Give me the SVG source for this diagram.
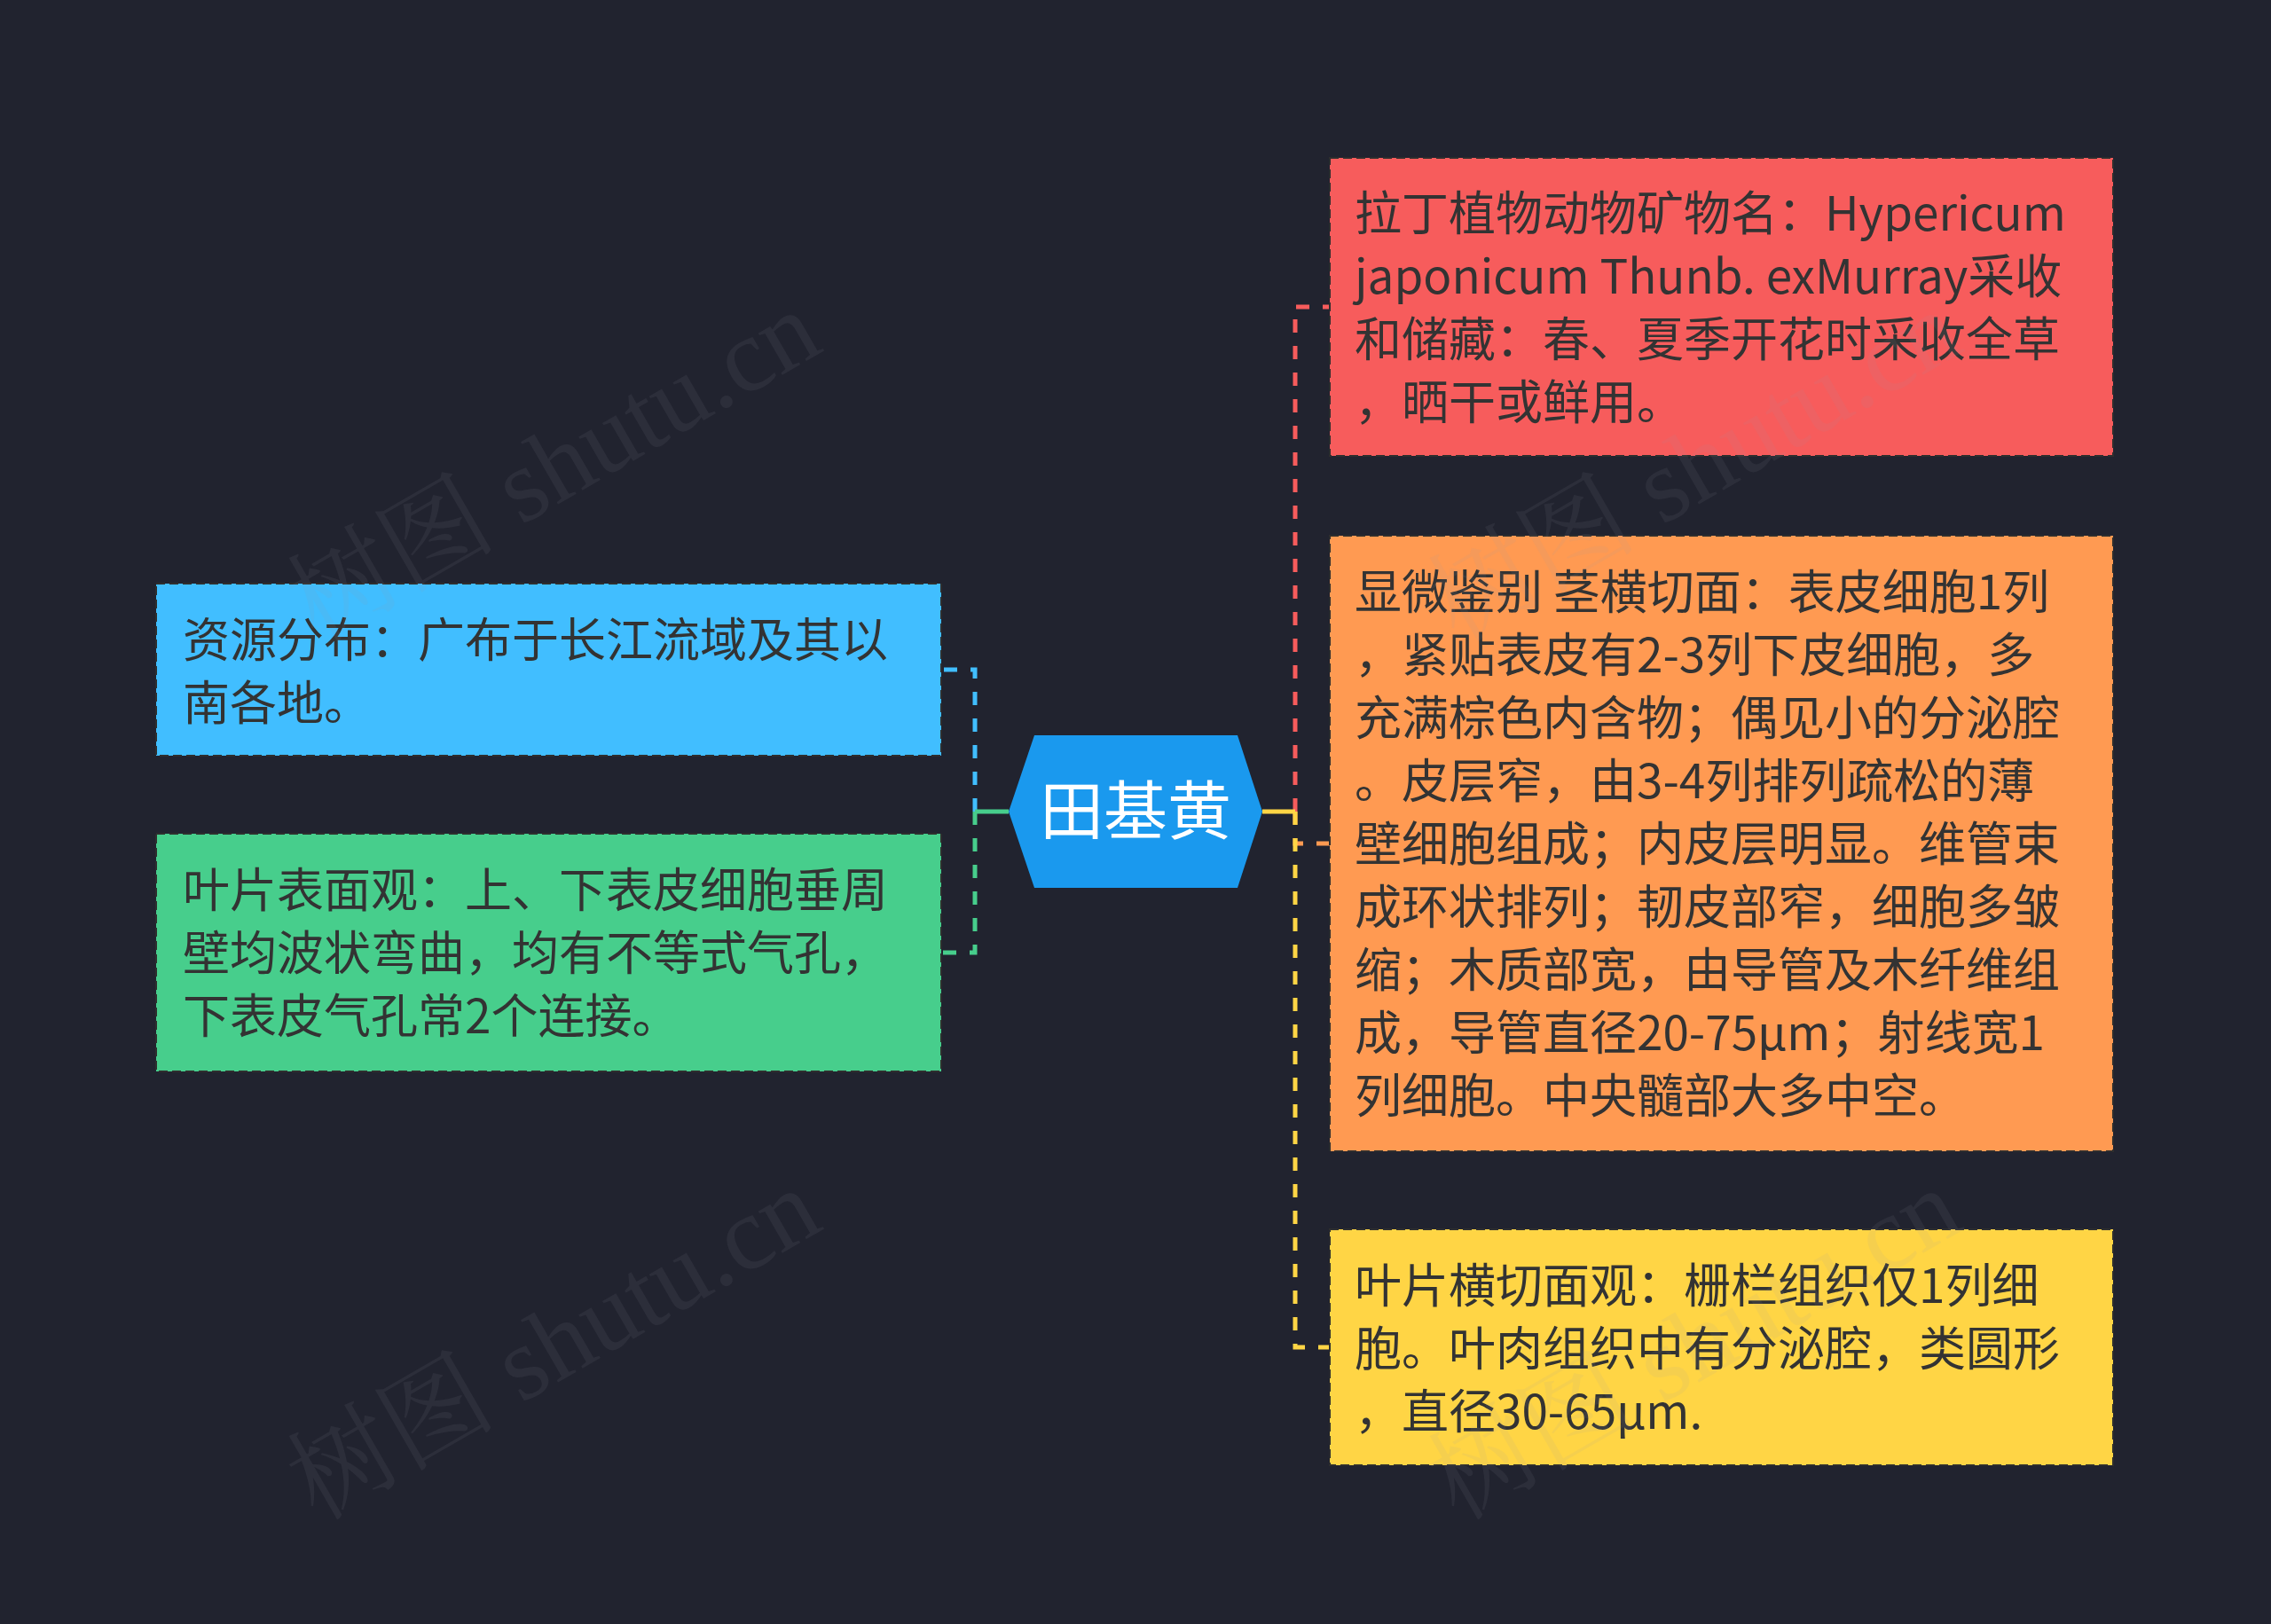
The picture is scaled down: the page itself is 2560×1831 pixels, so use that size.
<svg xmlns="http://www.w3.org/2000/svg" width="2560" height="1831" viewBox="0 0 2560 1831">
<style>
.t{font-family:"Noto Sans CJK SC","Noto Sans",sans-serif;font-size:53px;fill:#333333}
.box{stroke:#2e2e2e;stroke-width:2;stroke-dasharray:10 5}
.c{fill:none;stroke-width:5;stroke-dasharray:15 15}
.s{fill:none;stroke-width:5}
.wm{font-family:"Liberation Serif","Noto Serif CJK SC","Noto Sans CJK SC",serif;font-size:118px;fill:#9a9aa8;opacity:0.09}
</style>
<rect x="0" y="0" width="2560" height="1831" fill="#21232F"/>
<g id="connectors">
<path class="c" stroke="#41BEFF" d="M1099 915 V755 H1061"/>
<path class="c" stroke="#47CE8C" d="M1099 915 V1074 H1061"/>
<path class="s" stroke="#47CE8C" d="M1137 915 H1099"/>
<path class="c" stroke="#F75C5C" d="M1460 915 V346 H1499"/>
<path class="c" stroke="#FF9A52" d="M1460 915 V951 H1499"/>
<path class="c" stroke="#FFD545" d="M1460 915 V1519 H1499"/>
<path class="s" stroke="#FFD545" d="M1423 915 H1460"/>
</g>
<g id="root">
<polygon points="1137,915 1166,829 1395,829 1423,915 1395,1001 1166,1001" fill="#1A99EE"/>
<text x="1280" y="940" text-anchor="middle" font-family="Noto Sans CJK SC,sans-serif" font-size="72" fill="#FFFFFF">田基黄</text>
</g>
<g id="node-blue">
<rect class="box" x="176" y="658" width="885" height="194" fill="#41BEFF"/>
<text class="t" x="206" y="741">资源分布：广布于长江流域及其以</text>
<text class="t" x="206" y="812">南各地。</text>
</g>
<g id="node-green">
<rect class="box" x="176" y="940" width="885" height="268" fill="#47CE8C"/>
<text class="t" x="206" y="1023">叶片表面观：上、下表皮细胞垂周</text>
<text class="t" x="206" y="1094">壁均波状弯曲，均有不等式气孔，</text>
<text class="t" x="206" y="1165">下表皮气孔常2个连接。</text>
</g>
<g id="node-red">
<rect class="box" x="1499" y="178" width="883" height="336" fill="#F75C5C"/>
<text class="t" x="1527" y="260">拉丁植物动物矿物名：Hypericum</text>
<text class="t" x="1527" y="331">japonicum Thunb. exMurray采收</text>
<text class="t" x="1527" y="402">和储藏：春、夏季开花时采收全草</text>
<text class="t" x="1527" y="473">，晒干或鲜用。</text>
</g>
<g id="node-orange">
<rect class="box" x="1499" y="604" width="883" height="694" fill="#FF9A52"/>
<text class="t" x="1527" y="687">显微鉴别 茎横切面：表皮细胞1列</text>
<text class="t" x="1527" y="758">，紧贴表皮有2-3列下皮细胞，多</text>
<text class="t" x="1527" y="829">充满棕色内含物；偶见小的分泌腔</text>
<text class="t" x="1527" y="900">。皮层窄，由3-4列排列疏松的薄</text>
<text class="t" x="1527" y="971">壁细胞组成；内皮层明显。维管束</text>
<text class="t" x="1527" y="1042">成环状排列；韧皮部窄，细胞多皱</text>
<text class="t" x="1527" y="1113">缩；木质部宽，由导管及木纤维组</text>
<text class="t" x="1527" y="1184">成，导管直径20-75μm；射线宽1</text>
<text class="t" x="1527" y="1255">列细胞。中央髓部大多中空。</text>
</g>
<g id="node-yellow">
<rect class="box" x="1499" y="1386" width="883" height="266" fill="#FFD545"/>
<text class="t" x="1527" y="1469">叶片横切面观：栅栏组织仅1列细</text>
<text class="t" x="1527" y="1540">胞。叶肉组织中有分泌腔，类圆形</text>
<text class="t" x="1527" y="1611">，直径30-65μm.</text>
</g>
<g id="watermarks">
<text class="wm" text-anchor="middle" transform="translate(644,560) rotate(-30)">树图 shutu.cn</text>
<text class="wm" text-anchor="middle" transform="translate(644,1550) rotate(-30)">树图 shutu.cn</text>
<text class="wm" text-anchor="middle" transform="translate(1930,560) rotate(-30)">树图 shutu.cn</text>
<text class="wm" text-anchor="middle" transform="translate(1930,1550) rotate(-30)">树图 shutu.cn</text>
</g>
</svg>
